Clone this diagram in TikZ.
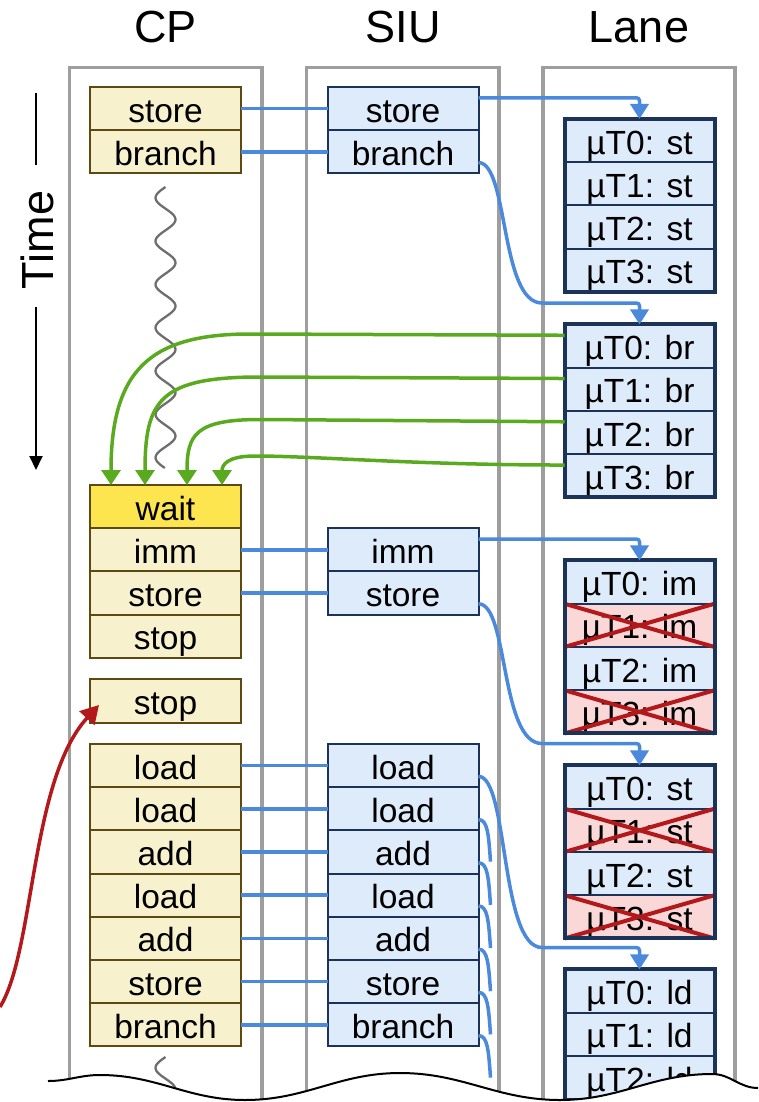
\documentclass[tikz,border=0pt]{standalone}
\usepackage{fontspec}
\setmainfont{Liberation Sans}
\usetikzlibrary{arrows.meta,calc}
\definecolor{cpfill}{HTML}{F7F2CD}
\definecolor{cpline}{HTML}{5C4A12}
\definecolor{waitfill}{HTML}{FDE54F}
\definecolor{bluefill}{HTML}{DDEBFB}
\definecolor{navy}{HTML}{1B3358}
\definecolor{conn}{HTML}{4A89DC}
\definecolor{grn}{HTML}{5AAA1F}
\definecolor{redx}{HTML}{B3191B}
\definecolor{pinkfill}{HTML}{FBD8D8}
\definecolor{framegray}{HTML}{9E9E9E}
\definecolor{wavygray}{HTML}{6E6E6E}
\tikzset{
  box/.style={rectangle, minimum width=151pt, minimum height=43.2pt, inner sep=0pt, outer sep=0pt,
    line width=2pt, font=\fontsize{33.5}{40}\selectfont, text height=32pt, text depth=5pt},
  cpbox/.style={box, draw=cpline, fill=cpfill},
  waitbox/.style={box, draw=cpline, fill=waitfill},
  siubox/.style={box, draw=navy, fill=bluefill},
  lanerow/.style={box, minimum width=150pt, minimum height=43.25pt, draw=navy, fill=bluefill},
  deadrow/.style={lanerow, fill=pinkfill},
  laneframe/.style={draw=navy, line width=4pt},
  xline/.style={draw=redx, line width=4pt},
  title/.style={font=\fontsize{45}{54}\selectfont, anchor=base, inner sep=0pt},
  frameline/.style={draw=framegray, line width=3.5pt},
  wire/.style={draw=conn, line width=3.5pt},
  issue/.style={wire, -{Triangle[width=18pt,length=15pt]}, rounded corners=3pt},
  ret/.style={draw=grn, line width=3.5pt, -{Triangle[width=19pt,length=15pt]}},
  redarrow/.style={draw=redx, line width=3.5pt, -{Triangle[width=20pt,length=18pt]}},
  wavyline/.style={draw=wavygray, line width=2.3pt},
  timeline/.style={draw=black, line width=2pt}
}
\begin{document}
\begin{tikzpicture}[x=1pt,y=-1pt]
\useasboundingbox (0,0) rectangle (758,1102);

% column frames
\draw[frameline] (69.5,1102) |- (262,67.5) -- (262,1102);
\draw[frameline] (306.5,1102) |- (499,67.5) -- (499,1102);
\draw[frameline] (543,1102) |- (735,67.5) -- (735,1102);

% titles
\node[title] (tcp) at (165.5,43) {CP};
\node[title] (tsiu) at (403,43) {SIU};
\node[title] (tlane) at (639,43) {Lane};

% time axis
\node[font=\fontsize{45}{54}\selectfont, rotate=90, anchor=base, inner sep=0pt] (time) at (53,240) {Time};
\coordinate (t1) at (36,93);
\coordinate (t2) at (36,165);
\coordinate (t3) at (36,307);
\coordinate (t4) at (36,470);
\draw[timeline] (t1) -- (t2);
\draw[timeline, -{Triangle[width=13pt,length=14pt]}] (t3) -- (t4);

% wavy lines
\draw[wavyline] plot[domain=0:281, samples=160, smooth] ({165.5-10*sin(8.314*\x)}, {187+\x});
\draw[wavyline] plot[domain=0:60, samples=40, smooth] ({165.5-10*sin(8.314*\x)}, {1057+\x});

% CP boxes
\node[cpbox] (cpA1) at (165.5,108.6) {store};
\node[cpbox] (cpA2) at (165.5,151.8) {branch};
\node[waitbox] (cpB1) at (165.5,506.6) {wait};
\node[cpbox] (cpB2) at (165.5,549.8) {imm};
\node[cpbox] (cpB3) at (165.5,593.0) {store};
\node[cpbox] (cpB4) at (165.5,636.2) {stop};
\node[cpbox] (cpC1) at (165.5,701.0) {stop};
\node[cpbox] (cpD1) at (165.5,765.6) {load};
\node[cpbox] (cpD2) at (165.5,808.8) {load};
\node[cpbox] (cpD3) at (165.5,852.0) {add};
\node[cpbox] (cpD4) at (165.5,895.2) {load};
\node[cpbox] (cpD5) at (165.5,938.4) {add};
\node[cpbox] (cpD6) at (165.5,981.6) {store};
\node[cpbox] (cpD7) at (165.5,1024.8) {branch};

% SIU boxes
\node[siubox] (siuA1) at (403,108.6) {store};
\node[siubox] (siuA2) at (403,151.8) {branch};
\node[siubox] (siuB1) at (403,549.8) {imm};
\node[siubox] (siuB2) at (403,593.0) {store};
\node[siubox] (siuD1) at (403,765.6) {load};
\node[siubox] (siuD2) at (403,808.8) {load};
\node[siubox] (siuD3) at (403,852.0) {add};
\node[siubox] (siuD4) at (403,895.2) {load};
\node[siubox] (siuD5) at (403,938.4) {add};
\node[siubox] (siuD6) at (403,981.6) {store};
\node[siubox] (siuD7) at (403,1024.8) {branch};

% CP -> SIU
\foreach \a/\b in {cpA1/siuA1, cpA2/siuA2, cpB2/siuB1, cpB3/siuB2, cpD1/siuD1, cpD2/siuD2, cpD3/siuD3, cpD4/siuD4, cpD5/siuD5, cpD6/siuD6, cpD7/siuD7}
  \draw[wire] (\a) -- (\b);

% Lane groups
% group 1 (top 117.5)
\node[lanerow] (L1r1) at (639.5,140.6) {µT0: st};
\node[lanerow] (L1r2) at (639.5,183.85) {µT1: st};
\node[lanerow] (L1r3) at (639.5,227.1) {µT2: st};
\node[lanerow] (L1r4) at (639.5,270.35) {µT3: st};
\draw[laneframe] (L1r1.north west) rectangle (L1r4.south east);
% group 2 (top 323)
\node[lanerow] (L2r1) at (639.5,346.1) {µT0: br};
\node[lanerow] (L2r2) at (639.5,389.35) {µT1: br};
\node[lanerow] (L2r3) at (639.5,432.6) {µT2: br};
\node[lanerow] (L2r4) at (639.5,475.85) {µT3: br};
\draw[laneframe] (L2r1.north west) rectangle (L2r4.south east);
% group 3 (top 559)
\node[lanerow] (L3r1) at (639.5,582.1) {µT0: im};
\node[deadrow] (L3r2) at (639.5,625.35) {µT1: im};
\node[lanerow] (L3r3) at (639.5,668.6) {µT2: im};
\node[deadrow] (L3r4) at (639.5,711.85) {µT3: im};
\draw[xline] (L3r2.north west) -- (L3r2.south east) (L3r2.north east) -- (L3r2.south west);
\draw[xline] (L3r4.north west) -- (L3r4.south east) (L3r4.north east) -- (L3r4.south west);
\draw[laneframe] (L3r1.north west) rectangle (L3r4.south east);
% group 4 (top 764)
\node[lanerow] (L4r1) at (639.5,787.1) {µT0: st};
\node[deadrow] (L4r2) at (639.5,830.35) {µT1: st};
\node[lanerow] (L4r3) at (639.5,873.6) {µT2: st};
\node[deadrow] (L4r4) at (639.5,916.85) {µT3: st};
\draw[xline] (L4r2.north west) -- (L4r2.south east) (L4r2.north east) -- (L4r2.south west);
\draw[xline] (L4r4.north west) -- (L4r4.south east) (L4r4.north east) -- (L4r4.south west);
\draw[laneframe] (L4r1.north west) rectangle (L4r4.south east);
% group 5 (top 968)
\node[lanerow] (L5r1) at (639.5,991.1) {µT0: ld};
\node[lanerow] (L5r2) at (639.5,1034.35) {µT1: ld};
\node[lanerow] (L5r3) at (639.5,1077.6) {µT2: ld};
\node[lanerow] (L5r4) at (639.5,1120.85) {µT3: ld};
\draw[laneframe] (L5r1.north west) rectangle (L5r4.south east);

% SIU -> Lane issue arrows
\draw[issue] ([yshift=-10.8pt]siuA1.north east) -| (L1r1.north);
\draw[issue] ([yshift=10.8pt]siuA2.south east) .. controls +(30,0) and +(-45,0) .. (545,303) -| (L2r1.north);
\draw[issue] ([yshift=-10.8pt]siuB1.north east) -| (L3r1.north);
\draw[issue] ([yshift=10.8pt]siuB2.south east) .. controls +(30,0) and +(-45,0) .. (545,743.5) -| (L4r1.north);
\draw[issue] ([yshift=10.8pt]siuD1.south east) .. controls +(30,0) and +(-45,0) .. (545,947.5) -| (L5r1.north);
\foreach \n in {siuD2,siuD3,siuD4,siuD5,siuD6,siuD7}
  \draw[wire] ([yshift=10.8pt]\n.south east) .. controls +(9,0) and +(-2,-28) .. +(12,42);

% Lane -> CP returns (green)
\draw[ret] ([yshift=-10.8pt]L2r1.north west) -- (250,334) .. controls +(-100,0) and +(0,-115) .. ([xshift=-54.5pt]cpB1.north);
\draw[ret] ([yshift=-10.8pt]L2r2.north west) -- (260,377) .. controls +(-100,0) and +(0,-85) .. ([xshift=-20.5pt]cpB1.north);
\draw[ret] ([yshift=-10.8pt]L2r3.north west) -- (260,419.5) .. controls +(-65,0) and +(0,-50) .. ([xshift=21.5pt]cpB1.north);
\draw[ret] ([yshift=-10.8pt]L2r4.north west) .. controls +(-150,0) and +(60,0) .. (255,456) .. controls +(-28,0) and +(0,-20) .. ([xshift=56.5pt]cpB1.north);

% torn edge
\fill[white] (0,1081) -- (48,1081) to[out=0,in=180] (100,1075) to[out=0,in=180] (245,1100) to[out=0,in=180] (400,1073) to[out=0,in=180] (560,1100) to[out=0,in=180] (712,1074) to[out=0,in=180] (758,1088) -- (758,1110) -- (0,1110) -- cycle;
\draw[line width=2pt] (48,1081) to[out=0,in=180] (100,1075) to[out=0,in=180] (245,1100) to[out=0,in=180] (400,1073) to[out=0,in=180] (560,1100) to[out=0,in=180] (712,1074) to[out=0,in=180] (758,1088);

% red arrow
\coordinate (redstart) at (0,1007);
\draw[redarrow] (redstart) .. controls +(35,-57) and +(-69,75) .. ([xshift=9pt,yshift=-4pt]cpC1.west);
\end{tikzpicture}
\end{document}
